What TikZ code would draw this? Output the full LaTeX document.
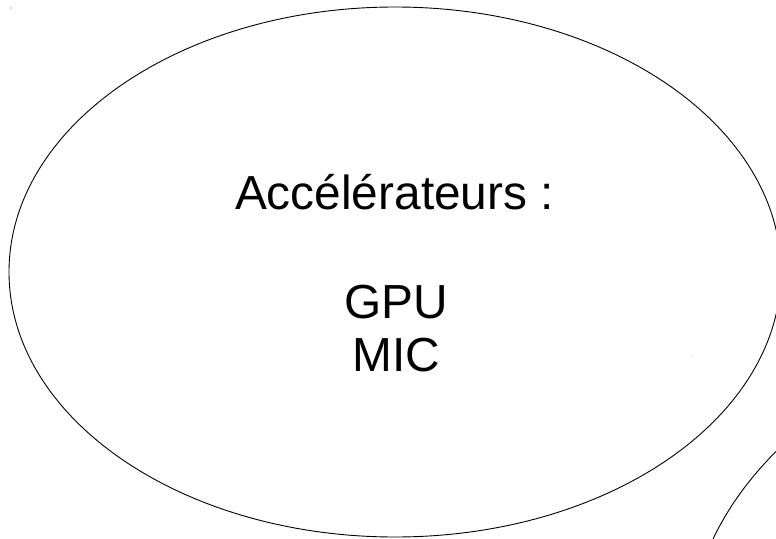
\documentclass[tikz,border=0pt]{standalone}
\usepackage{fontspec}
\setmainfont{Liberation Sans}
\usetikzlibrary{shapes.geometric}
\tikzset{
         bulle/.style={ellipse, draw, line width=0.9pt, inner sep=0pt},
         gros/.style={font=\fontsize{47.8}{53}\selectfont, anchor=base, inner sep=0pt}
        }
\begin{document}
\begin{tikzpicture}[x=1pt,y=-1pt]
\useasboundingbox (0,0) rectangle (776,538);
\clip (0,0) rectangle (776,538);
%bubbles
\node[bulle, minimum width=772pt, minimum height=530pt] (accel) at (395,272) {};
\node[bulle, minimum width=1000pt, minimum height=690pt] (voisin) at (1188,647) {};
%labels
\node[gros] (titre) at (394.5,209) {Accélérateurs :};
\node[gros] (gpu) at (395.8,318) {GPU};
\node[gros] (mic) at (396.5,371) {MIC};
%specks
\fill[black!70] (11,8) circle (0.6pt);
\fill[black!50] (692,356) circle (0.5pt);
\end{tikzpicture}
\end{document}
